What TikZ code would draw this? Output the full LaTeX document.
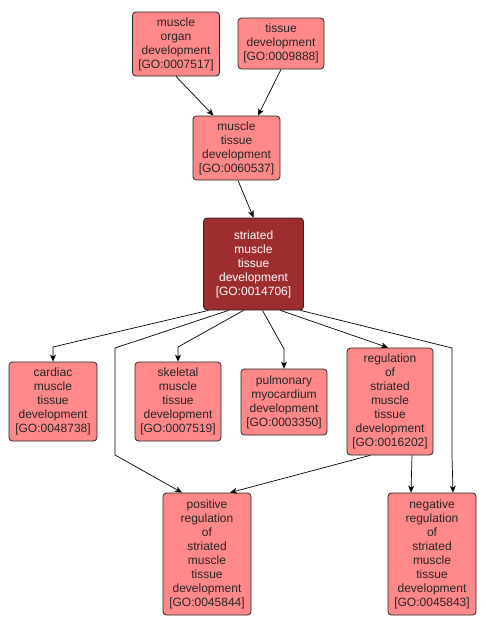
\documentclass[tikz,border=0pt]{standalone}
\usepackage{fontspec}
\setmainfont{Liberation Sans}
\usetikzlibrary{arrows.meta}
\definecolor{goFill}{RGB}{255,136,136}
\definecolor{goDark}{RGB}{158,45,45}
\begin{document}
\begin{tikzpicture}[x=1pt,y=-1pt,
  gobox/.style={draw=black!85, line width=0.8pt, fill=goFill, rounded corners=3.5pt,
    inner sep=0pt, align=center, font=\fontsize{12}{14}\selectfont, text=black!85},
  godark/.style={gobox, fill=goDark, text=white},
  edge/.style={draw=black, line width=0.7pt, -{Stealth[length=7pt,width=6pt,inset=2pt]}}]
\useasboundingbox (0,0) rectangle (485,629);
% boxes: center, width, height
\node[gobox, minimum width=87pt, minimum height=64pt] (mo) at (176,44) {muscle\\organ\\development\\{[GO:0007517]}};
\node[gobox, minimum width=86pt, minimum height=51pt] (td) at (281,43.5) {tissue\\development\\{[GO:0009888]}};
\node[gobox, minimum width=87pt, minimum height=64pt] (mt) at (236.5,148) {muscle\\tissue\\development\\{[GO:0060537]}};
\node[godark, minimum width=100pt, minimum height=92pt] (str) at (253.5,264) {striated\\muscle\\tissue\\development\\{[GO:0014706]}};
\node[gobox, minimum width=88pt, minimum height=79pt] (card) at (53,401.5) {cardiac\\muscle\\tissue\\development\\{[GO:0048738]}};
\node[gobox, minimum width=86pt, minimum height=79pt] (skel) at (178,401.5) {skeletal\\muscle\\tissue\\development\\{[GO:0007519]}};
\node[gobox, minimum width=86pt, minimum height=66pt] (pulm) at (284,402) {pulmonary\\myocardium\\development\\{[GO:0003350]}};
\node[gobox, minimum width=86pt, minimum height=107pt] (reg) at (390,401.5) {regulation\\of\\striated\\muscle\\tissue\\development\\{[GO:0016202]}};
\node[gobox, minimum width=88pt, minimum height=122pt] (pos) at (207,554) {positive\\regulation\\of\\striated\\muscle\\tissue\\development\\{[GO:0045844]}};
\node[gobox, minimum width=88pt, minimum height=122pt] (neg) at (432,554) {negative\\regulation\\of\\striated\\muscle\\tissue\\development\\{[GO:0045843]}};
% edges
\draw[edge] (mo.south) -- ([xshift=-23pt]mt.north);
\draw[edge] (td.south) -- ([xshift=21.5pt]mt.north);
\draw[edge] ([xshift=1.5pt]mt.south) -- (str.north);
\draw[edge] ([xshift=-45pt]str.south) -- (53,347) -- (card.north);
\draw[edge] ([xshift=-25pt]str.south) -- (115,348) -- (115,455) -- ([xshift=-25pt]pos.north);
\draw[edge] ([xshift=-10pt]str.south) -- (178,347) -- (skel.north);
\draw[edge] ([xshift=9pt]str.south) -- (284,349) -- (pulm.north);
\draw[edge] ([xshift=27pt]str.south) -- ([xshift=-2pt]reg.north);
\draw[edge] ([xshift=47pt]str.south) -- (452,348) -- (452,455) -- ([xshift=21pt]neg.north);
\draw[edge] ([xshift=-20pt]reg.south) -- ([xshift=23pt]pos.north);
\draw[edge] ([xshift=22pt]reg.south) -- ([xshift=-21pt]neg.north);
\end{tikzpicture}
\end{document}
